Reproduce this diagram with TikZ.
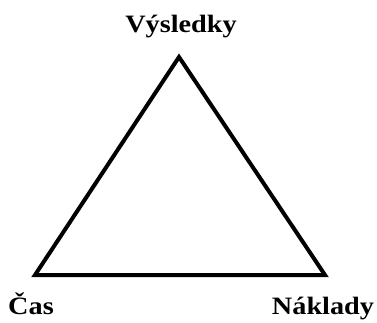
\documentclass[tikz,border=0pt]{standalone}
\usepackage{fontspec}
\setmainfont{Liberation Serif}
\begin{document}
\begin{tikzpicture}[x=1pt,y=-1pt,
  lbl/.style={font=\bfseries\fontsize{25}{25}\selectfont, inner sep=0pt, anchor=base, xscale=1.13},
  edge/.style={line width=4pt, line join=miter}]
\useasboundingbox (0,0) rectangle (377,322);
\coordinate (top) at (179,57);
\coordinate (left) at (35,275);
\coordinate (right) at (325,275);
\draw[edge] (top) -- (left) -- (right) -- cycle;
\node[lbl] (t1) at (181,32) {Výsledky};
\node[lbl] (t2) at (31,314) {Čas};
\node[lbl] (t3) at (323,314) {Náklady};
\end{tikzpicture}
\end{document}
